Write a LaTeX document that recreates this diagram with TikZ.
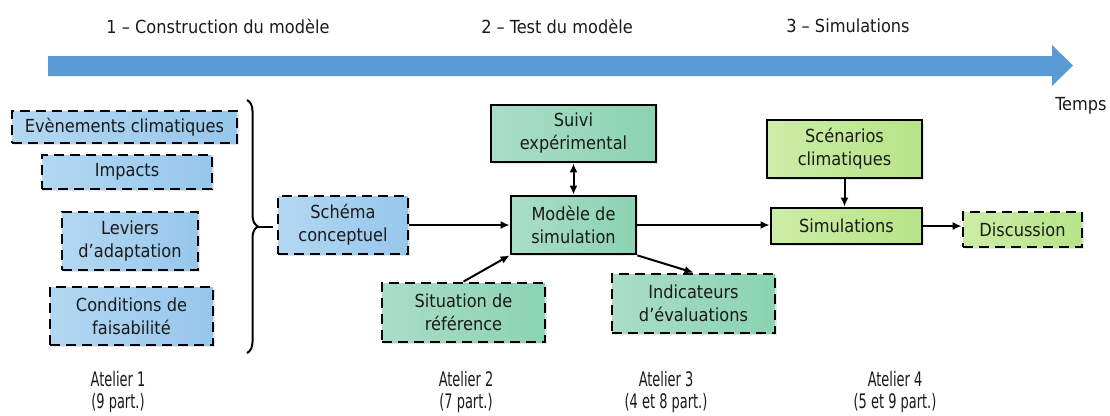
\documentclass[tikz,border=0pt]{standalone}
\usepackage{fontspec}
\setmainfont{DejaVu Sans Condensed}
\usetikzlibrary{arrows.meta,decorations.pathreplacing,shadows}
\definecolor{barblue}{HTML}{5B9BD5}
\definecolor{blueL}{HTML}{B3D7F2}
\definecolor{blueR}{HTML}{96C7EC}
\definecolor{tealL}{HTML}{A9DDC8}
\definecolor{tealR}{HTML}{8BD3B3}
\definecolor{greenL}{HTML}{CDEDA6}
\definecolor{greenR}{HTML}{B7E487}
\definecolor{txt}{HTML}{1A1A1A}
\tikzset{
  box/.style={draw=black, line width=2.8pt, align=center, inner sep=2pt,
    text=txt, font=\fontsize{18}{23}\selectfont,
    drop shadow={opacity=0.2, shadow xshift=2pt, shadow yshift=-2pt}},
  dashbox/.style={box, dash pattern=on 10pt off 6pt},
  bluefill/.style={left color=blueL, right color=blueR},
  tealfill/.style={left color=tealL, right color=tealR},
  greenfill/.style={left color=greenL, right color=greenR},
  tip/.style={Latex[length=9pt,width=8pt]},
  conn/.style={draw=black, line width=2pt, -{Latex[length=9pt,width=8pt]}},
  phase/.style={text=txt, font=\fontsize{18}{22}\selectfont},
  atelier/.style={text=txt, align=center, font=\fontsize{20}{22}\selectfont},
}
\newcommand{\narrow}[1]{\scalebox{0.72}[1]{#1}}
\begin{document}
\begin{tikzpicture}[x=1pt,y=-1pt]
\useasboundingbox (0,0) rectangle (1110,415);
% time arrow
\fill[barblue] (48,56) -- (1052,56) -- (1052,45) -- (1073,65.5) -- (1052,86) -- (1052,76) -- (48,76) -- cycle;
\node[phase] (p1) at (218,26) {1 – Construction du modèle};
\node[phase] (p2) at (557,26) {2 – Test du modèle};
\node[phase] (p3) at (848,26) {3 – Simulations};
\node[phase] (temps) at (1081,106) {Temps};
% left column
\node[dashbox,bluefill,minimum width=225pt,minimum height=32pt] (ev) at (124.5,127) {Evènements climatiques};
\node[dashbox,bluefill,minimum width=170pt,minimum height=34pt] (imp) at (127,172) {Impacts};
\node[dashbox,bluefill,minimum width=136pt,minimum height=58pt] (lev) at (130,241) {Leviers\\d’adaptation};
\node[dashbox,bluefill,minimum width=163pt,minimum height=58pt] (cond) at (131.5,316) {Conditions de\\faisabilité};
% brace
\draw[line width=2pt, decorate, decoration={brace, amplitude=11pt}] (247,100) -- (247,353);
\coordinate (btip) at (258,226.5);
\coordinate (bend) at (273,226.5);
\draw[line width=2pt] (btip) -- (bend);
% middle
\node[dashbox,bluefill,minimum width=130pt,minimum height=58pt] (sch) at (343,225) {Schéma\\conceptuel};
\node[box,tealfill,minimum width=165pt,minimum height=57pt] (suivi) at (573.5,133.5) {Suivi\\expérimental};
\node[box,tealfill,minimum width=125pt,minimum height=58pt] (mod) at (573.5,225) {Modèle de\\simulation};
\node[dashbox,tealfill,minimum width=163pt,minimum height=59pt] (sit) at (463.5,312.5) {Situation de\\référence};
\node[dashbox,tealfill,minimum width=163pt,minimum height=59pt] (ind) at (693.5,303.5) {Indicateurs\\d’évaluations};
% right
\node[box,greenfill,minimum width=155pt,minimum height=58pt] (scen) at (844.5,149) {Scénarios\\climatiques};
\node[box,greenfill,minimum width=151pt,minimum height=36pt] (simu) at (846.5,226) {Simulations};
\node[dashbox,greenfill,minimum width=119pt,minimum height=35pt] (disc) at (1022.5,229.5) {Discussion};
% connectors
\draw[conn] (sch.east) -- (mod.west);
\draw[conn,{Latex[length=9pt,width=8pt]}-{Latex[length=9pt,width=8pt]}] (suivi.south) -- (mod.north);
\draw[conn] (sit.north) -- (mod.south west);
\draw[conn] (mod.east) -- (mod.east -| simu.west);
\draw[conn] (mod.south east) -- (ind.north);
\draw[conn] (scen.south) -- (scen.south |- simu.north);
\draw[conn] (simu.east) -- (simu.east -| disc.west);
% ateliers
\node[atelier] (a1) at (118,392) {\narrow{Atelier 1}\\\narrow{(9 part.)}};
\node[atelier] (a2) at (466,392) {\narrow{Atelier 2}\\\narrow{(7 part.)}};
\node[atelier] (a3) at (666,392) {\narrow{Atelier 3}\\\narrow{(4 et 8 part.)}};
\node[atelier] (a4) at (895,392) {\narrow{Atelier 4}\\\narrow{(5 et 9 part.)}};
\end{tikzpicture}
\end{document}
